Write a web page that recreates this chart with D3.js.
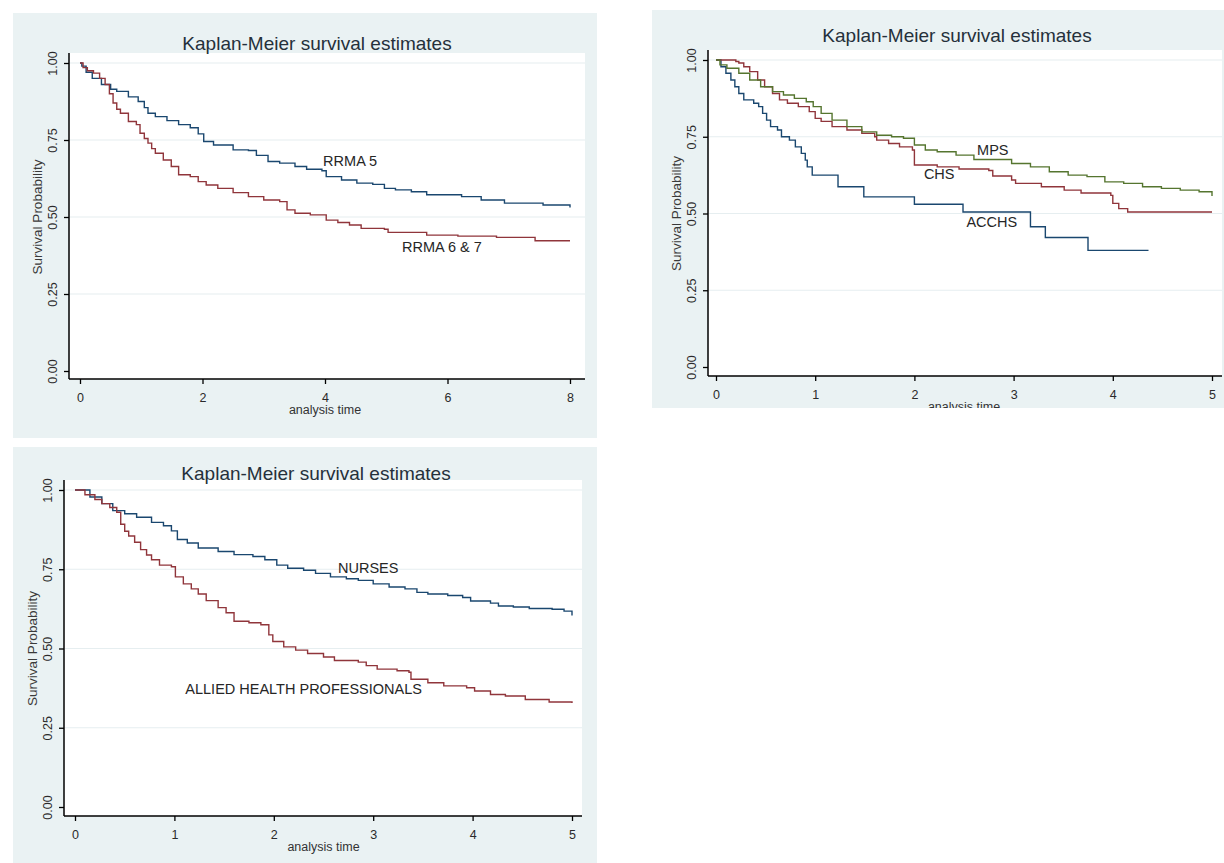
<!DOCTYPE html>
<html><head><meta charset="utf-8">
<script src="https://cdn.jsdelivr.net/npm/d3@7"></script>
<style>body{margin:0;background:#fff}svg{display:block}text{font-family:"Liberation Sans",Arial,sans-serif}</style>
</head><body>
<svg id="c" width="1224" height="863"></svg>
<script>
// ---------- data ----------
const chartTitle = "Kaplan-Meier survival estimates";
const yTicks = [0, 0.25, 0.5, 0.75, 1];
const xTicks1 = [0, 2, 4, 6, 8];
const xTicks5 = [0, 1, 2, 3, 4, 5];

// Panel 1
const rrma5T = [0,0.03,0.1,0.2,0.35,0.5,0.6,0.79,0.95,1.05,1.11,1.23,1.42,1.61,1.80,1.93,2.02,2.18,2.5,2.75,2.88,3.07,3.26,3.51,3.70,3.95,4.02,4.27,4.52,4.78,4.97,5.15,5.41,5.66,5.98,6.23,6.55,6.93,7.56,8.0];
const rrma5S = [1.0,0.99,0.97,0.95,0.93,0.915,0.908,0.89,0.875,0.855,0.837,0.826,0.813,0.80,0.79,0.77,0.745,0.734,0.718,0.716,0.70,0.68,0.675,0.664,0.655,0.65,0.631,0.62,0.61,0.606,0.593,0.588,0.582,0.572,0.572,0.566,0.555,0.545,0.539,0.531];
const rrma67T = [0,0.05,0.12,0.22,0.32,0.41,0.48,0.54,0.6,0.66,0.79,0.92,0.98,1.05,1.11,1.17,1.23,1.36,1.49,1.61,1.80,1.93,2.06,2.25,2.5,2.75,3.0,3.26,3.38,3.51,3.76,4.02,4.21,4.40,4.59,4.97,5.03,5.66,6.17,6.8,7.43,8.0];
const rrma67S = [1.0,0.985,0.975,0.967,0.95,0.93,0.90,0.87,0.85,0.837,0.81,0.80,0.772,0.755,0.74,0.722,0.707,0.685,0.664,0.637,0.631,0.615,0.604,0.593,0.579,0.566,0.555,0.55,0.523,0.512,0.507,0.49,0.482,0.474,0.463,0.46,0.45,0.441,0.438,0.434,0.423,0.423];

// Panel 2
const acchsT = [0,0.05,0.1,0.15,0.19,0.23,0.28,0.38,0.43,0.47,0.51,0.55,0.62,0.66,0.74,0.8,0.86,0.9,0.92,0.97,1.23,1.49,2.0,2.49,3.17,3.32,3.75,4.36];
const acchsS = [1,0.978,0.957,0.935,0.913,0.891,0.87,0.859,0.848,0.826,0.804,0.783,0.772,0.75,0.739,0.717,0.696,0.674,0.652,0.625,0.587,0.554,0.530,0.505,0.457,0.422,0.38,0.38];
const chsT = [0,0.2,0.23,0.28,0.34,0.42,0.49,0.57,0.64,0.72,0.83,0.94,1.0,1.06,1.17,1.32,1.47,1.6,1.62,1.74,1.85,1.98,2.0,2.23,2.45,2.75,2.79,2.98,3.02,3.28,3.51,3.68,3.98,4.0,4.06,4.15,5.0];
const chsS = [1,0.995,0.99,0.978,0.962,0.935,0.913,0.891,0.87,0.859,0.848,0.832,0.81,0.80,0.783,0.772,0.761,0.75,0.739,0.728,0.717,0.707,0.658,0.652,0.645,0.64,0.622,0.609,0.598,0.587,0.576,0.567,0.559,0.533,0.516,0.505,0.505];
const mpsT = [0,0.04,0.11,0.23,0.34,0.45,0.57,0.68,0.79,0.91,0.98,1.06,1.17,1.32,1.47,1.62,1.77,1.89,2.0,2.11,2.23,2.42,2.6,2.87,2.98,3.17,3.36,3.55,3.74,3.92,4.11,4.3,4.49,4.68,4.87,5.0];
const mpsS = [1,0.984,0.973,0.957,0.935,0.913,0.897,0.886,0.875,0.864,0.848,0.826,0.804,0.783,0.766,0.755,0.75,0.745,0.723,0.707,0.701,0.69,0.676,0.676,0.663,0.652,0.636,0.625,0.62,0.603,0.598,0.587,0.582,0.576,0.571,0.557];

// Panel 3
const nursesT = [0,0.15,0.27,0.38,0.5,0.62,0.77,0.89,0.97,1.03,1.13,1.24,1.44,1.6,1.79,1.91,2.03,2.14,2.3,2.42,2.57,2.73,2.85,3.0,3.16,3.32,3.44,3.55,3.75,3.9,3.98,4.18,4.26,4.41,4.57,4.8,4.92,5.0];
const nursesS = [1,0.978,0.957,0.935,0.925,0.914,0.898,0.887,0.871,0.844,0.833,0.817,0.806,0.796,0.79,0.78,0.763,0.753,0.747,0.737,0.726,0.72,0.715,0.704,0.694,0.688,0.677,0.672,0.667,0.661,0.65,0.643,0.634,0.631,0.626,0.624,0.618,0.604];
const ahpT = [0,0.1,0.2,0.27,0.35,0.42,0.46,0.5,0.54,0.6,0.66,0.72,0.77,0.85,0.97,1.01,1.09,1.17,1.24,1.32,1.44,1.52,1.6,1.75,1.87,1.95,1.99,2.1,2.22,2.34,2.5,2.61,2.85,2.93,3.04,3.24,3.36,3.38,3.55,3.71,3.94,4.02,4.18,4.33,4.53,4.77,5.0];
const ahpS = [1,0.985,0.97,0.957,0.945,0.93,0.892,0.87,0.855,0.835,0.812,0.795,0.78,0.763,0.758,0.726,0.704,0.688,0.672,0.651,0.629,0.613,0.586,0.581,0.575,0.543,0.522,0.505,0.495,0.484,0.473,0.462,0.457,0.446,0.435,0.43,0.425,0.403,0.392,0.382,0.376,0.366,0.355,0.35,0.339,0.331,0.328];

// Curve labels: [text, time, survival]
const labels1 = [["RRMA 5", 4.41, 0.682], ["RRMA 6 & 7", 5.91, 0.403]];
const labels2 = [["MPS", 2.79, 0.707], ["CHS", 2.25, 0.63], ["ACCHS", 2.78, 0.473]];
const labels3 = [["NURSES", 2.95, 0.756], ["ALLIED HEALTH PROFESSIONALS", 2.3, 0.372]];

// ---------- styles ----------
const NAVY = "#1a476f", MAROON = "#90353b", GREEN = "#55752f";
const BG = "#eaf2f3";

const panels = [
  { bg:[13,13,584,425], axisX:69, axisY:379, plotTop:53, plotRight:585,
    xr:[80,570], yr:[371,63], xmax:8, xticks:xTicks1, titleX:317, titleY:50, clipBottom:null,
    series:[[rrma5T,rrma5S,NAVY],[rrma67T,rrma67S,MAROON]], labels:labels1 },
  { bg:[652,10,572,398], axisX:708, axisY:376, plotTop:50, plotRight:1222,
    xr:[716,1212], yr:[367,60], xmax:5, xticks:xTicks5, titleX:957, titleY:42, clipBottom:408,
    series:[[acchsT,acchsS,NAVY],[chsT,chsS,MAROON],[mpsT,mpsS,GREEN]], labels:labels2 },
  { bg:[13,447,584,416], axisX:64, axisY:816, plotTop:480, plotRight:582,
    xr:[75,572], yr:[807,490], xmax:5, xticks:xTicks5, titleX:316, titleY:480, clipBottom:null,
    series:[[nursesT,nursesS,NAVY],[ahpT,ahpS,MAROON]], labels:labels3 }
];

const svg = d3.select("#c");
svg.append("rect").attr("width",1224).attr("height",863).attr("fill","#fff");
const defs = svg.append("defs");

panels.forEach((p, i) => {
  const [bx,by,bw,bh] = p.bg;
  const clipH = p.clipBottom ? p.clipBottom - by : bh;
  defs.append("clipPath").attr("id","clip"+i).append("rect")
    .attr("x",bx).attr("y",by).attr("width",bw).attr("height",clipH);
  const g = svg.append("g").attr("clip-path",`url(#clip${i})`);
  g.append("rect").attr("x",bx).attr("y",by).attr("width",bw).attr("height",bh).attr("fill",BG);
  g.append("rect").attr("x",p.axisX).attr("y",p.plotTop)
    .attr("width",p.plotRight-p.axisX).attr("height",p.axisY-p.plotTop).attr("fill","#fff");

  const x = d3.scaleLinear().domain([0,p.xmax]).range(p.xr);
  const y = d3.scaleLinear().domain([0,1]).range(p.yr);

  // grid
  g.append("g").selectAll("line").data(yTicks.filter(d=>d>0)).join("line")
    .attr("x1",p.axisX+1).attr("x2",p.plotRight).attr("y1",d=>y(d)).attr("y2",d=>y(d))
    .attr("stroke","#e6eef0").attr("stroke-width",1.2);

  // title
  g.append("text").attr("x",p.titleX).attr("y",p.titleY).attr("text-anchor","middle")
    .attr("font-size",19).attr("fill","#25303b").text(chartTitle);

  // curves
  const line = d3.line().x(d=>x(d[0])).y(d=>y(d[1])).curve(d3.curveStepAfter);
  p.series.forEach(([T,S,col]) => {
    g.append("path").datum(T.map((t,k)=>[t,S[k]])).attr("d",line)
      .attr("fill","none").attr("stroke",col).attr("stroke-width",1.4);
  });

  // curve labels
  g.append("g").selectAll("text").data(p.labels).join("text")
    .attr("x",d=>x(d[1])).attr("y",d=>y(d[2])).attr("dy","0.36em").attr("text-anchor","middle")
    .attr("font-size",14.5).attr("fill","#262626").text(d=>d[0]);

  // y axis
  const ya = g.append("g").attr("transform",`translate(${p.axisX},0)`)
    .call(d3.axisLeft(y).tickValues(yTicks).tickFormat(d3.format(".2f")).tickSize(5).tickSizeOuter(0));
  ya.select(".domain").remove();
  ya.selectAll(".tick line").attr("stroke","#000").attr("stroke-width",1.3);
  ya.selectAll(".tick text").attr("x",0).attr("y",-12).attr("dy",0)
    .attr("transform","rotate(-90)").attr("text-anchor","middle")
    .attr("font-size",12.5).attr("fill","#2a2a2a").attr("font-family",'"Liberation Sans",Arial,sans-serif');
  g.append("line").attr("x1",p.axisX).attr("x2",p.axisX).attr("y1",p.plotTop).attr("y2",p.axisY)
    .attr("stroke","#000").attr("stroke-width",1.5);

  // x axis
  const xa = g.append("g").attr("transform",`translate(0,${p.axisY})`)
    .call(d3.axisBottom(x).tickValues(p.xticks).tickFormat(d3.format("d")).tickSize(5).tickPadding(9).tickSizeOuter(0));
  xa.select(".domain").remove();
  xa.selectAll(".tick line").attr("stroke","#000").attr("stroke-width",1.3);
  xa.selectAll(".tick text").attr("font-size",12.5).attr("fill","#2a2a2a")
    .attr("font-family",'"Liberation Sans",Arial,sans-serif');
  g.append("line").attr("x1",p.axisX).attr("x2",p.plotRight).attr("y1",p.axisY).attr("y2",p.axisY)
    .attr("stroke","#000").attr("stroke-width",1.5);

  // axis titles
  g.append("text").attr("x",(p.xr[0]+p.xr[1])/2).attr("y",p.axisY+35).attr("text-anchor","middle")
    .attr("font-size",12.5).attr("fill","#333").text("analysis time");
  const yc = (y(0)+y(1))/2;
  g.append("text").attr("transform",`translate(${p.axisX-27},${yc}) rotate(-90)`)
    .attr("text-anchor","middle").attr("font-size",13.5).attr("fill","#3a3a3a").text("Survival Probability");
});
</script>
</body></html>
